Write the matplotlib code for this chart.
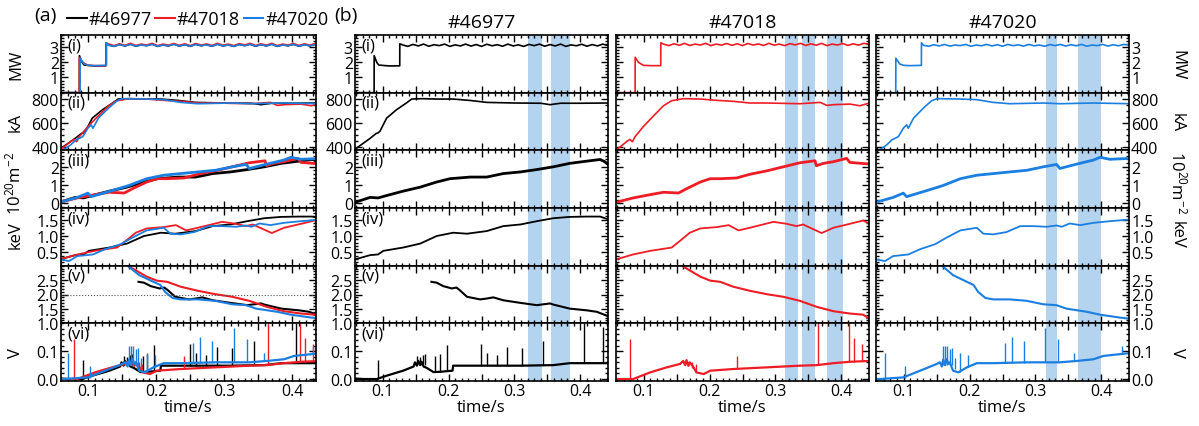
import numpy as np
import matplotlib
matplotlib.use('Agg')
import matplotlib.pyplot as plt
from matplotlib.ticker import MultipleLocator, AutoMinorLocator, FuncFormatter

plt.rcParams['font.family'] = ['Open Sans', 'DejaVu Sans']
plt.rcParams['mathtext.default'] = 'regular'

shots = ['#46977', '#47018', '#47020']
colors = ['black', '#ee1c25', '#1a7fe0']

# ---- (i) heating power, MW ----
flat_t = [0.13, 0.138, 0.146, 0.154, 0.162, 0.17, 0.178, 0.186, 0.194, 0.202,
          0.21, 0.218, 0.226, 0.234, 0.242, 0.25, 0.258, 0.266, 0.274, 0.282,
          0.29, 0.298, 0.306, 0.314, 0.322, 0.33, 0.338, 0.346, 0.354, 0.362,
          0.37, 0.378, 0.386, 0.394, 0.402, 0.41, 0.418, 0.426, 0.434, 0.442]
p_pre_t = {
    '#46977': [0.058, 0.087, 0.0871, 0.091, 0.094, 0.11, 0.1259, 0.126],
    '#47018': [0.058, 0.087, 0.0871, 0.092, 0.0995, 0.11, 0.1259, 0.126],
    '#47020': [0.058, 0.088, 0.0881, 0.094, 0.1, 0.11, 0.1269, 0.127],
}
p_pre_v = {
    '#46977': [0.0, 0.0, 2.44, 2.0, 1.82, 1.76, 1.77, 3.22],
    '#47018': [0.0, 0.0, 2.33, 2.0, 1.8, 1.78, 1.78, 3.29],
    '#47020': [0.0, 0.0, 2.27, 1.89, 1.8, 1.78, 1.8, 3.29],
}
p_flat_v = {
    '#46977': [3.15, 3.05, 3.18, 3.08, 3.2, 3.06, 3.16, 3.1, 3.2, 3.05, 3.15, 3.08, 3.2, 3.07,
               3.17, 3.05, 3.19, 3.09, 3.16, 3.06, 3.2, 3.08, 3.15, 3.05, 3.18, 3.1, 3.2, 3.06,
               3.17, 3.08, 3.2, 3.05, 3.15, 3.09, 3.19, 3.06, 3.17, 3.08, 3.2, 3.1],
    '#47018': [3.2, 3.1, 3.22, 3.12, 3.25, 3.11, 3.2, 3.14, 3.25, 3.1, 3.2, 3.13, 3.24, 3.12,
               3.22, 3.1, 3.24, 3.14, 3.21, 3.11, 3.25, 3.13, 3.2, 3.1, 3.23, 3.15, 3.25, 3.11,
               3.22, 3.13, 3.25, 3.1, 3.2, 3.14, 3.24, 3.11, 3.22, 3.13, 3.25, 3.2],
    '#47020': [3.12, 3.06, 3.16, 3.08, 3.18, 3.07, 3.14, 3.1, 3.18, 3.06, 3.14, 3.09, 3.18, 3.08,
               3.16, 3.06, 3.18, 3.1, 3.15, 3.07, 3.18, 3.09, 3.14, 3.06, 3.17, 3.1, 3.18, 3.07,
               3.16, 3.09, 3.18, 3.06, 3.14, 3.1, 3.18, 3.07, 3.16, 3.09, 3.18, 3.14],
}

# ---- (ii) plasma current, kA ----
ip_t = {
    '#46977': [0.058, 0.061, 0.081, 0.09, 0.093, 0.096, 0.106, 0.121, 0.136, 0.144, 0.16,
               0.18, 0.207, 0.233, 0.258, 0.3, 0.34, 0.354, 0.37, 0.4, 0.443],
    '#47018': [0.058, 0.0615, 0.074, 0.079, 0.083, 0.087, 0.0995, 0.115, 0.13, 0.1425, 0.16,
               0.186, 0.211, 0.236, 0.261, 0.287, 0.337, 0.368, 0.378, 0.388, 0.413, 0.428, 0.443],
    '#47020': [0.058, 0.0666, 0.074, 0.0818, 0.092, 0.0995, 0.1045, 0.107, 0.115, 0.13,
               0.1425, 0.15, 0.186, 0.211, 0.236, 0.261, 0.312, 0.337, 0.388, 0.443],
}
ip_v = {
    '#46977': [385, 391, 470, 510, 515, 530, 638, 708, 764, 797, 800,
               797, 797, 785, 769, 764, 762, 750, 762, 762, 764],
    '#47018': [375, 386, 442, 461, 442, 484, 568, 657, 741, 783, 800,
               797, 786, 778, 764, 764, 758, 769, 744, 750, 755, 741, 764],
    '#47020': [360, 386, 414, 456, 484, 554, 582, 554, 638, 722,
               783, 800, 797, 792, 769, 758, 764, 758, 764, 758],
}

# ---- (iii) line-integrated density, 1e20 m^-2 ----
ne_t = {
    '#46977': [0.058, 0.081, 0.093, 0.106, 0.131, 0.157, 0.182, 0.202, 0.233, 0.258, 0.283,
               0.309, 0.334, 0.359, 0.384, 0.41, 0.43, 0.437, 0.443],
    '#47018': [0.058, 0.084, 0.11, 0.13, 0.153, 0.165, 0.186, 0.201, 0.216, 0.241, 0.261,
               0.287, 0.312, 0.337, 0.36, 0.362, 0.373, 0.388, 0.408, 0.413, 0.443],
    '#47020': [0.058, 0.084, 0.0995, 0.1045, 0.135, 0.16, 0.186, 0.211, 0.236, 0.261, 0.287,
               0.312, 0.332, 0.337, 0.363, 0.388, 0.398, 0.413, 0.443],
}
ne_v = {
    '#46977': [0.06, 0.33, 0.3, 0.43, 0.67, 0.89, 1.17, 1.35, 1.44, 1.44, 1.63,
               1.72, 1.85, 2.0, 2.19, 2.31, 2.4, 2.28, 2.1],
    '#47018': [0.06, 0.3, 0.48, 0.61, 0.57, 0.8, 1.17, 1.35, 1.35, 1.39, 1.59,
               1.78, 2.0, 2.22, 2.33, 2.06, 2.19, 2.28, 2.46, 2.24, 2.15],
    '#47020': [0.06, 0.33, 0.56, 0.37, 0.7, 0.98, 1.35, 1.54, 1.63, 1.72, 1.81,
               2.0, 2.13, 1.91, 2.15, 2.37, 2.52, 2.41, 2.46],
}

# ---- (iv) electron temperature, keV ----
te_t = {
    '#46977': [0.058, 0.081, 0.093, 0.101, 0.131, 0.157, 0.182, 0.207, 0.228, 0.258, 0.283,
               0.309, 0.334, 0.359, 0.384, 0.41, 0.43, 0.443],
    '#47018': [0.058, 0.084, 0.11, 0.1425, 0.155, 0.17, 0.186, 0.211, 0.229, 0.244, 0.261,
               0.297, 0.317, 0.332, 0.342, 0.37, 0.388, 0.413, 0.433, 0.443],
    '#47020': [0.058, 0.0717, 0.084, 0.107, 0.125, 0.1476, 0.165, 0.186, 0.211, 0.221, 0.236,
               0.256, 0.277, 0.297, 0.317, 0.332, 0.34, 0.352, 0.368, 0.388, 0.413, 0.443],
}
te_v = {
    '#46977': [0.29, 0.42, 0.44, 0.55, 0.65, 0.77, 1.0, 1.1, 1.07, 1.15, 1.3,
               1.35, 1.45, 1.54, 1.58, 1.59, 1.59, 1.5],
    '#47018': [0.29, 0.44, 0.55, 0.65, 0.85, 1.1, 1.23, 1.27, 1.33, 1.17, 1.25,
               1.43, 1.37, 1.3, 1.35, 1.09, 1.25, 1.37, 1.47, 1.37],
    '#47020': [0.29, 0.24, 0.39, 0.44, 0.6, 0.75, 0.95, 1.17, 1.25, 1.07, 1.05,
               1.12, 1.3, 1.3, 1.28, 1.32, 1.28, 1.38, 1.33, 1.4, 1.45, 1.5],
}

# ---- (v) q95 ----
q_t = {
    '#46977': [0.174, 0.182, 0.192, 0.205, 0.212, 0.217, 0.228, 0.248, 0.258, 0.268, 0.283,
               0.309, 0.334, 0.354, 0.359, 0.384, 0.41, 0.425, 0.443],
    '#47018': [0.16, 0.186, 0.201, 0.216, 0.236, 0.261, 0.287, 0.312, 0.337, 0.363, 0.388,
               0.413, 0.433, 0.443],
    '#47020': [0.158, 0.175, 0.206, 0.213, 0.224, 0.236, 0.261, 0.287, 0.312, 0.332, 0.347,
               0.378, 0.398, 0.428, 0.443],
}
q_v = {
    '#46977': [2.44, 2.41, 2.29, 2.21, 2.24, 2.15, 1.92, 1.83, 1.86, 1.9, 1.8,
               1.71, 1.63, 1.69, 1.65, 1.51, 1.45, 1.4, 1.24],
    '#47018': [2.97, 2.62, 2.48, 2.44, 2.27, 2.13, 2.01, 1.92, 1.78, 1.57, 1.42,
               1.34, 1.3, 1.16],
    '#47020': [3.0, 2.67, 2.33, 2.09, 1.88, 1.83, 1.83, 1.78, 1.66, 1.63, 1.51,
               1.4, 1.3, 1.2, 1.16],
}

# ---- (vi) loop voltage, V ----
vl_t = {
    '#46977': [0.058, 0.071, 0.091, 0.106, 0.131, 0.147, 0.149, 0.152, 0.154, 0.157, 0.159,
               0.162, 0.167, 0.177, 0.187, 0.206, 0.207, 0.258, 0.309, 0.359, 0.384, 0.41, 0.443],
    '#47018': [0.058, 0.084, 0.11, 0.135, 0.155, 0.16, 0.163, 0.165, 0.168, 0.17, 0.175,
               0.18, 0.191, 0.201, 0.236, 0.287, 0.337, 0.363, 0.388, 0.413, 0.443],
    '#47020': [0.058, 0.064, 0.0995, 0.125, 0.15, 0.155, 0.158, 0.16, 0.163, 0.165, 0.168,
               0.17, 0.175, 0.183, 0.196, 0.211, 0.236, 0.287, 0.337, 0.363, 0.388, 0.403, 0.443],
}
vl_v = {
    '#46977': [0.002, 0.0, 0.0, 0.012, 0.03, 0.045, 0.06, 0.048, 0.065, 0.05, 0.062,
               0.045, 0.04, 0.025, 0.026, 0.03, 0.048, 0.048, 0.048, 0.05, 0.057, 0.057, 0.057],
    '#47018': [0.0, 0.0, 0.024, 0.042, 0.054, 0.065, 0.05, 0.068, 0.048, 0.06, 0.045,
               0.024, 0.018, 0.03, 0.036, 0.042, 0.048, 0.05, 0.057, 0.062, 0.065],
    '#47020': [0.0, 0.0, 0.006, 0.03, 0.054, 0.06, 0.045, 0.07, 0.05, 0.072, 0.055,
               0.06, 0.03, 0.024, 0.042, 0.057, 0.057, 0.06, 0.06, 0.065, 0.071, 0.083, 0.093],
}
spike_t = {
    '#46977': [0.093, 0.152, 0.157, 0.161, 0.164, 0.18, 0.187, 0.197, 0.249, 0.259, 0.273,
               0.289, 0.312, 0.344, 0.405, 0.435],
    '#47018': [0.079, 0.163, 0.168, 0.174, 0.179, 0.241, 0.365, 0.411, 0.419, 0.431],
    '#47020': [0.071, 0.102, 0.16, 0.163, 0.166, 0.17, 0.173, 0.178, 0.186, 0.198, 0.254,
               0.265, 0.282, 0.315, 0.334, 0.359, 0.431],
}
spike_top = {
    '#46977': [0.068, 0.083, 0.08, 0.085, 0.09, 0.083, 0.089, 0.121, 0.125, 0.093, 0.087,
               0.115, 0.113, 0.135, 0.2, 0.188],
    '#47018': [0.145, 0.065, 0.062, 0.06, 0.054, 0.083, 0.202, 0.2, 0.149, 0.125],
    '#47020': [0.095, 0.048, 0.119, 0.119, 0.119, 0.107, 0.11, 0.077, 0.093, 0.087, 0.131,
               0.151, 0.135, 0.182, 0.145, 0.095, 0.119],
}
spike_base = {
    '#46977': [0.0, 0.05, 0.05, 0.055, 0.05, 0.03, 0.027, 0.028, 0.048, 0.048, 0.048,
               0.048, 0.048, 0.05, 0.057, 0.057],
    '#47018': [0.0, 0.05, 0.048, 0.04, 0.03, 0.036, 0.05, 0.062, 0.062, 0.064],
    '#47020': [0.0, 0.005, 0.05, 0.05, 0.05, 0.05, 0.05, 0.035, 0.024, 0.042, 0.058,
               0.058, 0.059, 0.06, 0.06, 0.065, 0.09],
}

# shaded time windows per shot
windows = {
    '#46977': [(0.32, 0.342), (0.355, 0.384)],
    '#47018': [(0.314, 0.334), (0.34, 0.36), (0.378, 0.402)],
    '#47020': [(0.316, 0.333), (0.365, 0.399)],
}

row_tags = ['(i)', '(ii)', '(iii)', '(iv)', '(v)', '(vi)']
row_units = ['MW', 'kA', r'$10^{20}$m$^{-2}$', 'keV', '', 'V']
row_ylim = [(0, 3.8), (370, 850), (-0.25, 2.9), (0.1, 1.85), (1.0, 3.0), (-0.007, 0.2)]
row_ticks = [[1, 2, 3], [400, 600, 800], [0, 1, 2], [0.5, 1.0, 1.5],
             [1.0, 1.5, 2.0, 2.5], [0.0, 0.1]]
row_minor = [5, 4, 5, 5, 5, 5]
# vertical offset (axes fraction) for the unit labels, as they sit in the figure
label_y = [0.5, 0.5, 0.45, 0.55, 0.5, 0.5]


def draw_row(ax, row, shot, c):
    if row == 0:
        ax.plot(p_pre_t[shot] + flat_t, p_pre_v[shot] + p_flat_v[shot], color=c, lw=1.2)
    elif row == 1:
        ax.plot(ip_t[shot], ip_v[shot], color=c, lw=1.2)
    elif row == 2:
        ax.plot(ne_t[shot], ne_v[shot], color=c, lw=2.0)
    elif row == 3:
        ax.plot(te_t[shot], te_v[shot], color=c, lw=1.3)
    elif row == 4:
        ax.plot(q_t[shot], q_v[shot], color=c, lw=1.5)
    else:
        ax.plot(vl_t[shot], vl_v[shot], color=c, lw=1.6)
        ax.vlines(spike_t[shot], spike_base[shot], spike_top[shot], color=c, lw=1.0)


def style_axis(ax, row, xlim):
    ax.set_xlim(*xlim)
    ax.set_ylim(*row_ylim[row])
    ax.set_yticks(row_ticks[row])
    ax.yaxis.set_minor_locator(AutoMinorLocator(row_minor[row]))
    ax.xaxis.set_major_locator(MultipleLocator(0.05))
    ax.xaxis.set_minor_locator(MultipleLocator(0.01))
    ax.xaxis.set_major_formatter(FuncFormatter(
        lambda v, p: ('%.1f' % v) if abs(v * 10 - round(v * 10)) < 1e-6 else ''))
    ax.tick_params(which='both', direction='in', top=True, right=True, width=1.0,
                   labelsize=11.5, pad=1.5)
    ax.tick_params(which='major', length=5)
    ax.tick_params(which='minor', length=2.5)
    for s in ax.spines.values():
        s.set_linewidth(1.2)
    if row < 5:
        ax.tick_params(labelbottom=False)


fig = plt.figure(figsize=(11.99, 4.27), dpi=100)
W, H = 1199.0, 427.0
top_px, row_h = 36.0, (382.0 - 36.0) / 6
cols_px = [(61, 316), (355, 608), (616, 869), (876, 1129)]

for ci, (x0, x1) in enumerate(cols_px):
    for row in range(6):
        y_top = top_px + row * row_h
        ax = fig.add_axes([x0 / W, 1 - (y_top + row_h) / H, (x1 - x0) / W, row_h / H])
        if ci == 0:
            xlim = (0.06, 0.435)
            for shot, c in zip(shots, colors):
                draw_row(ax, row, shot, c)
            if row == 4:
                ax.axhline(2.0, color='#555555', lw=0.8, ls=':')
        else:
            xlim = (0.058, 0.442)
            shot = shots[ci - 1]
            for a, b in windows[shot]:
                ax.axvspan(a, b, color='#b3d3ee', lw=0, zorder=0)
            draw_row(ax, row, shot, colors[ci - 1])
        style_axis(ax, row, xlim)
        if ci in (0, 1):
            ax.text(0.025, 0.96, row_tags[row], transform=ax.transAxes, ha='left', va='top',
                    fontsize=12)
        if ci == 0:
            ax.set_ylabel(row_units[row], fontsize=12)
            ax.yaxis.set_label_coords(-0.145, label_y[row])
        if ci == 2:
            ax.tick_params(labelleft=False)
        if ci == 3:
            ax.tick_params(labelleft=False, labelright=True)
            ax.yaxis.set_label_position('right')
            ax.set_ylabel(row_units[row], fontsize=12, rotation=270, va='center')
            ax.yaxis.set_label_coords(1.19, label_y[row])
        if row == 5:
            ax.set_xlabel('time/s', fontsize=12, labelpad=0)
        if row == 0 and ci == 0:
            for shot, c in zip(shots, colors):
                ax.plot([], [], color=c, lw=1.5, label=shot)
            ax.legend(loc='lower left', bbox_to_anchor=(-0.02, 0.93), ncol=3, frameon=False,
                      fontsize=13, handlelength=1.1, handletextpad=0.1, columnspacing=0.2,
                      borderaxespad=0.2)
        if row == 0 and ci > 0:
            ax.set_title(shots[ci - 1], fontsize=14, pad=6)

fig.text(34 / W, 1 - 16 / H, '(a)', fontsize=14, ha='left', va='center')
fig.text(334 / W, 1 - 16 / H, '(b)', fontsize=14, ha='left', va='center')

fig.savefig('out.png', dpi=100)
